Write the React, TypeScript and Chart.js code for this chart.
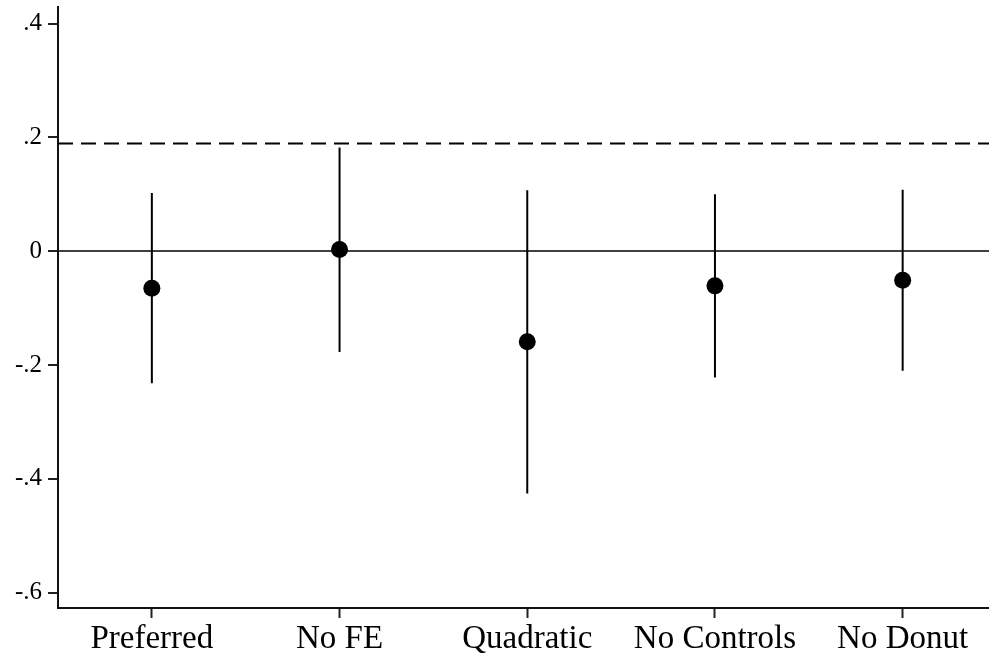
import React, { useEffect, useRef } from "react";
import { Chart, registerables } from "chart.js";

Chart.register(...registerables);

const categories = ["Preferred", "No FE", "Quadratic", "No Controls", "No Donut"];
const estimates = [-0.065, 0.003, -0.159, -0.061, -0.051];
const ciLow = [-0.232, -0.177, -0.426, -0.222, -0.21];
const ciHigh = [0.102, 0.182, 0.107, 0.1, 0.108];
const referenceLine = 0.189;
const yTicks = [-0.6, -0.4, -0.2, 0, 0.2, 0.4];

const FONT = "'Liberation Serif', 'Times New Roman', serif";

function fmt(v: number): string {
  if (Math.abs(v) < 1e-9) return "0";
  const s = (Math.round(v * 10) / 10).toString();
  return s.replace("0.", ".");
}

export default function App() {
  const ref = useRef<HTMLCanvasElement | null>(null);

  useEffect(() => {
    if (!ref.current) return;
    const xs = categories.map((_, i) => i + 1);
    const ciData: any[] = [];
    xs.forEach((x, i) => {
      ciData.push({ x, y: ciLow[i] });
      ciData.push({ x, y: ciHigh[i] });
      ciData.push({ x, y: null });
    });
    const chart = new Chart(ref.current, {
      type: "scatter",
      data: {
        datasets: [
          {
            type: "scatter",
            data: xs.map((x, i) => ({ x, y: estimates[i] })),
            backgroundColor: "#000",
            borderColor: "#000",
            borderWidth: 0,
            pointRadius: 8.5,
            pointHoverRadius: 8.5,
            order: 0,
          },
          {
            type: "line",
            data: ciData,
            borderColor: "#000",
            borderWidth: 2,
            pointRadius: 0,
            spanGaps: false,
            fill: false,
            order: 1,
          },
          {
            type: "line",
            data: [
              { x: 0.5, y: referenceLine },
              { x: 5.46, y: referenceLine },
            ],
            borderColor: "#000",
            borderWidth: 2,
            borderDash: [15, 8],
            pointRadius: 0,
            fill: false,
            order: 2,
          },
        ],
      },
      options: {
        responsive: false,
        animation: false,
        layout: { autoPadding: false, padding: { top: 7, right: 0, left: 0, bottom: 0 } },
        plugins: { legend: { display: false }, tooltip: { enabled: false } },
        scales: {
          x: {
            type: "linear",
            min: 0.5,
            max: 5.46,
            afterBuildTicks: (s: any) => {
              s.ticks = xs.map((v) => ({ value: v }));
            },
            afterFit: (s: any) => {
              s.height = 51;
              s.paddingLeft = 0;
              s.paddingRight = 0;
            },
            ticks: {
              callback: (v: any) => categories[Number(v) - 1] ?? "",
              color: "#000",
              font: { family: FONT, size: 33 },
              padding: 2,
              maxRotation: 0,
              autoSkip: false,
            },
            grid: {
              drawOnChartArea: false,
              drawTicks: true,
              tickLength: 10,
              tickColor: "#222",
              tickWidth: 2,
            },
            border: { display: true, color: "#111", width: 2 },
          },
          y: {
            type: "linear",
            min: -0.627,
            max: 0.429,
            afterBuildTicks: (s: any) => {
              s.ticks = yTicks.map((v) => ({ value: v }));
            },
            afterFit: (s: any) => {
              s.width = 58;
              s.paddingTop = 0;
              s.paddingBottom = 0;
            },
            ticks: {
              callback: (v: any) => fmt(Number(v)),
              color: "#000",
              font: { family: FONT, size: 25 },
              padding: 6,
            },
            grid: {
              drawOnChartArea: true,
              drawTicks: true,
              tickLength: 10,
              tickColor: "#222",
              tickWidth: 2,
              lineWidth: (c: any) => (c.tick && Math.abs(c.tick.value) < 1e-9 ? 2 : 0),
              color: (c: any) => (c.tick && Math.abs(c.tick.value) < 1e-9 ? "#404040" : "rgba(0,0,0,0)"),
            },
            border: { display: true, color: "#111", width: 2 },
          },
        },
      },
    });
    return () => chart.destroy();
  }, []);

  return (
    <div style={{ position: "absolute", left: 0, top: 0, width: 989, height: 659, background: "#fff" }}>
      <canvas ref={ref} width={989} height={659} />
    </div>
  );
}
